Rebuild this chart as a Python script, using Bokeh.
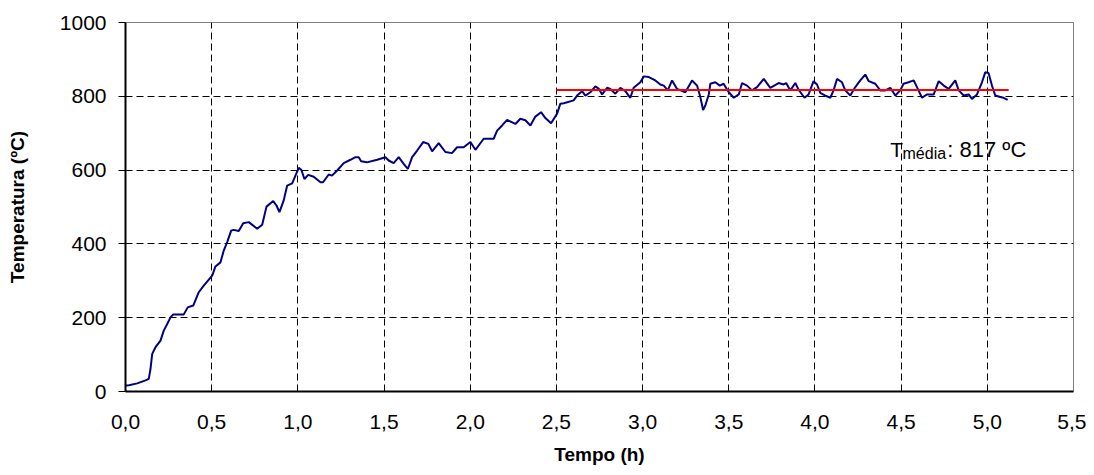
from bokeh.plotting import figure
from bokeh.models import FixedTicker, Range1d, Label
from bokeh.embed import file_html
from bokeh.resources import INLINE

# --- data ---
tempo_h = [0.000, 0.020, 0.068, 0.116, 0.135, 0.145, 0.155, 0.174, 0.203, 0.222,
           0.242, 0.261, 0.277, 0.338, 0.361, 0.393, 0.425, 0.454, 0.503, 0.522,
           0.551, 0.570, 0.590, 0.613, 0.627, 0.657, 0.683, 0.715, 0.764, 0.793,
           0.818, 0.857, 0.876, 0.893, 0.918, 0.938, 0.967, 0.986, 1.005, 1.020,
           1.038, 1.060, 1.092, 1.131, 1.146, 1.179, 1.198, 1.228, 1.266, 1.305,
           1.334, 1.353, 1.367, 1.400, 1.460, 1.508, 1.527, 1.556, 1.585, 1.614,
           1.638, 1.663, 1.692, 1.727, 1.757, 1.779, 1.817, 1.856, 1.894, 1.924,
           1.962, 2.001, 2.030, 2.078, 2.136, 2.156, 2.185, 2.214, 2.262, 2.291,
           2.320, 2.349, 2.378, 2.411, 2.436, 2.469, 2.504, 2.523, 2.543, 2.600,
           2.620, 2.649, 2.668, 2.697, 2.726, 2.745, 2.765, 2.794, 2.813, 2.842,
           2.871, 2.900, 2.929, 2.948, 2.987, 3.007, 3.036, 3.074, 3.103, 3.123,
           3.146, 3.171, 3.200, 3.248, 3.287, 3.316, 3.335, 3.351, 3.364, 3.384,
           3.393, 3.422, 3.448, 3.470, 3.500, 3.529, 3.558, 3.577, 3.606, 3.635,
           3.664, 3.703, 3.741, 3.789, 3.818, 3.833, 3.857, 3.886, 3.905, 3.939,
           3.963, 3.992, 4.012, 4.031, 4.060, 4.089, 4.108, 4.128, 4.157, 4.176,
           4.205, 4.234, 4.263, 4.292, 4.312, 4.350, 4.379, 4.408, 4.437, 4.466,
           4.495, 4.514, 4.543, 4.573, 4.592, 4.621, 4.650, 4.689, 4.718, 4.747,
           4.776, 4.814, 4.834, 4.863, 4.892, 4.911, 4.940, 4.969, 4.988, 5.007,
           5.027, 5.046, 5.075, 5.094, 5.118]
temperatura = [16, 17, 22, 30, 34, 61, 102, 120, 138, 165,
               183, 201, 209, 209, 228, 233, 269, 287, 314, 339,
               350, 382, 405, 436, 438, 435, 456, 459, 441, 452,
               501, 516, 504, 486, 518, 558, 564, 585, 606, 601,
               576, 587, 582, 567, 567, 588, 585, 599, 619, 628,
               635, 635, 624, 621, 628, 635, 626, 619, 635, 617,
               603, 635, 653, 676, 671, 651, 673, 649, 646, 662,
               662, 676, 655, 685, 685, 707, 721, 736, 725, 739,
               735, 721, 745, 757, 741, 727, 753, 780, 781, 789,
               802, 814, 802, 811, 827, 821, 805, 823, 820, 807,
               823, 814, 796, 823, 838, 854, 852, 843, 832, 829,
               816, 843, 820, 811, 843, 829, 798, 763, 775, 805,
               834, 838, 829, 834, 811, 796, 805, 836, 829, 816,
               825, 847, 823, 836, 832, 836, 816, 836, 818, 796,
               805, 841, 832, 809, 802, 796, 816, 847, 838, 816,
               802, 825, 843, 859, 841, 834, 816, 816, 823, 802,
               816, 834, 838, 843, 825, 796, 805, 805, 841, 829,
               820, 843, 816, 802, 805, 793, 805, 838, 865, 863,
               829, 802, 798, 796, 790]

media_t = [2.5, 5.124]
media_T = [817, 817]

x_ticks = [0.0, 0.5, 1.0, 1.5, 2.0, 2.5, 3.0, 3.5, 4.0, 4.5, 5.0, 5.5]
x_tick_labels = ["0,0", "0,5", "1,0", "1,5", "2,0", "2,5", "3,0", "3,5", "4,0", "4,5", "5,0", "5,5"]
y_ticks = [0, 200, 400, 600, 800, 1000]

FONT = "Liberation Sans"

p = figure(width=1086, height=472, output_backend="svg", toolbar_location=None,
           x_range=Range1d(0, 5.5), y_range=Range1d(0, 1000),
           min_border_left=125, min_border_right=13, min_border_top=22, min_border_bottom=81)
p.background_fill_color = "white"
p.border_fill_color = "white"
p.outline_line_color = "#808080"
p.outline_line_width = 1

# grid
for g in (p.xgrid, p.ygrid):
    g.grid_line_color = "black"
    g.grid_line_dash = "7 4"
    g.grid_line_width = 1
p.xgrid.ticker = FixedTicker(ticks=x_ticks)
p.ygrid.ticker = FixedTicker(ticks=y_ticks)

# axes
p.xaxis.ticker = FixedTicker(ticks=x_ticks)
p.xaxis.major_label_overrides = {t: l for t, l in zip(x_ticks, x_tick_labels)}
p.yaxis.ticker = FixedTicker(ticks=y_ticks)
for ax in (p.xaxis[0], p.yaxis[0]):
    ax.axis_line_color = "black"
    ax.axis_line_width = 2
    ax.minor_tick_line_color = None
    ax.major_label_text_font = FONT
    ax.major_label_text_font_size = "21px"
    ax.major_label_text_color = "black"
    ax.axis_label_text_font = FONT
    ax.axis_label_text_font_style = "bold"
    ax.axis_label_text_font_size = "19px"
    ax.axis_label_text_color = "black"

p.xaxis.major_tick_out = 0
p.xaxis.major_tick_in = 0
p.xaxis.major_label_standoff = 23
p.xaxis.axis_label = "Tempo (h)"
p.xaxis.axis_label_standoff = 12

p.yaxis.major_tick_out = 7
p.yaxis.major_tick_in = 0
p.yaxis.major_tick_line_color = "black"
p.yaxis.major_label_standoff = 12
p.yaxis.axis_label = "Temperatura (ºC)"
p.yaxis.axis_label_standoff = 29

# data
p.line(tempo_h, temperatura, line_color="#000080", line_width=2)
p.line(media_t, media_T, line_color="#FF0000", line_width=2)

# annotation T_média: 817 ºC
p.add_layout(Label(x=4.437, y=655, text="T", text_font=FONT, text_font_size="21px",
                   text_color="black", text_baseline="alphabetic", text_align="left"))
p.add_layout(Label(x=4.508, y=644, text="média", text_font=FONT, text_font_size="16px",
                   text_color="black", text_baseline="alphabetic", text_align="left"))
p.add_layout(Label(x=4.768, y=655, text=": 817 ºC", text_font=FONT, text_font_size="22px",
                   text_color="black", text_baseline="alphabetic", text_align="left"))

open("out.html", "w").write(file_html(p, INLINE))
